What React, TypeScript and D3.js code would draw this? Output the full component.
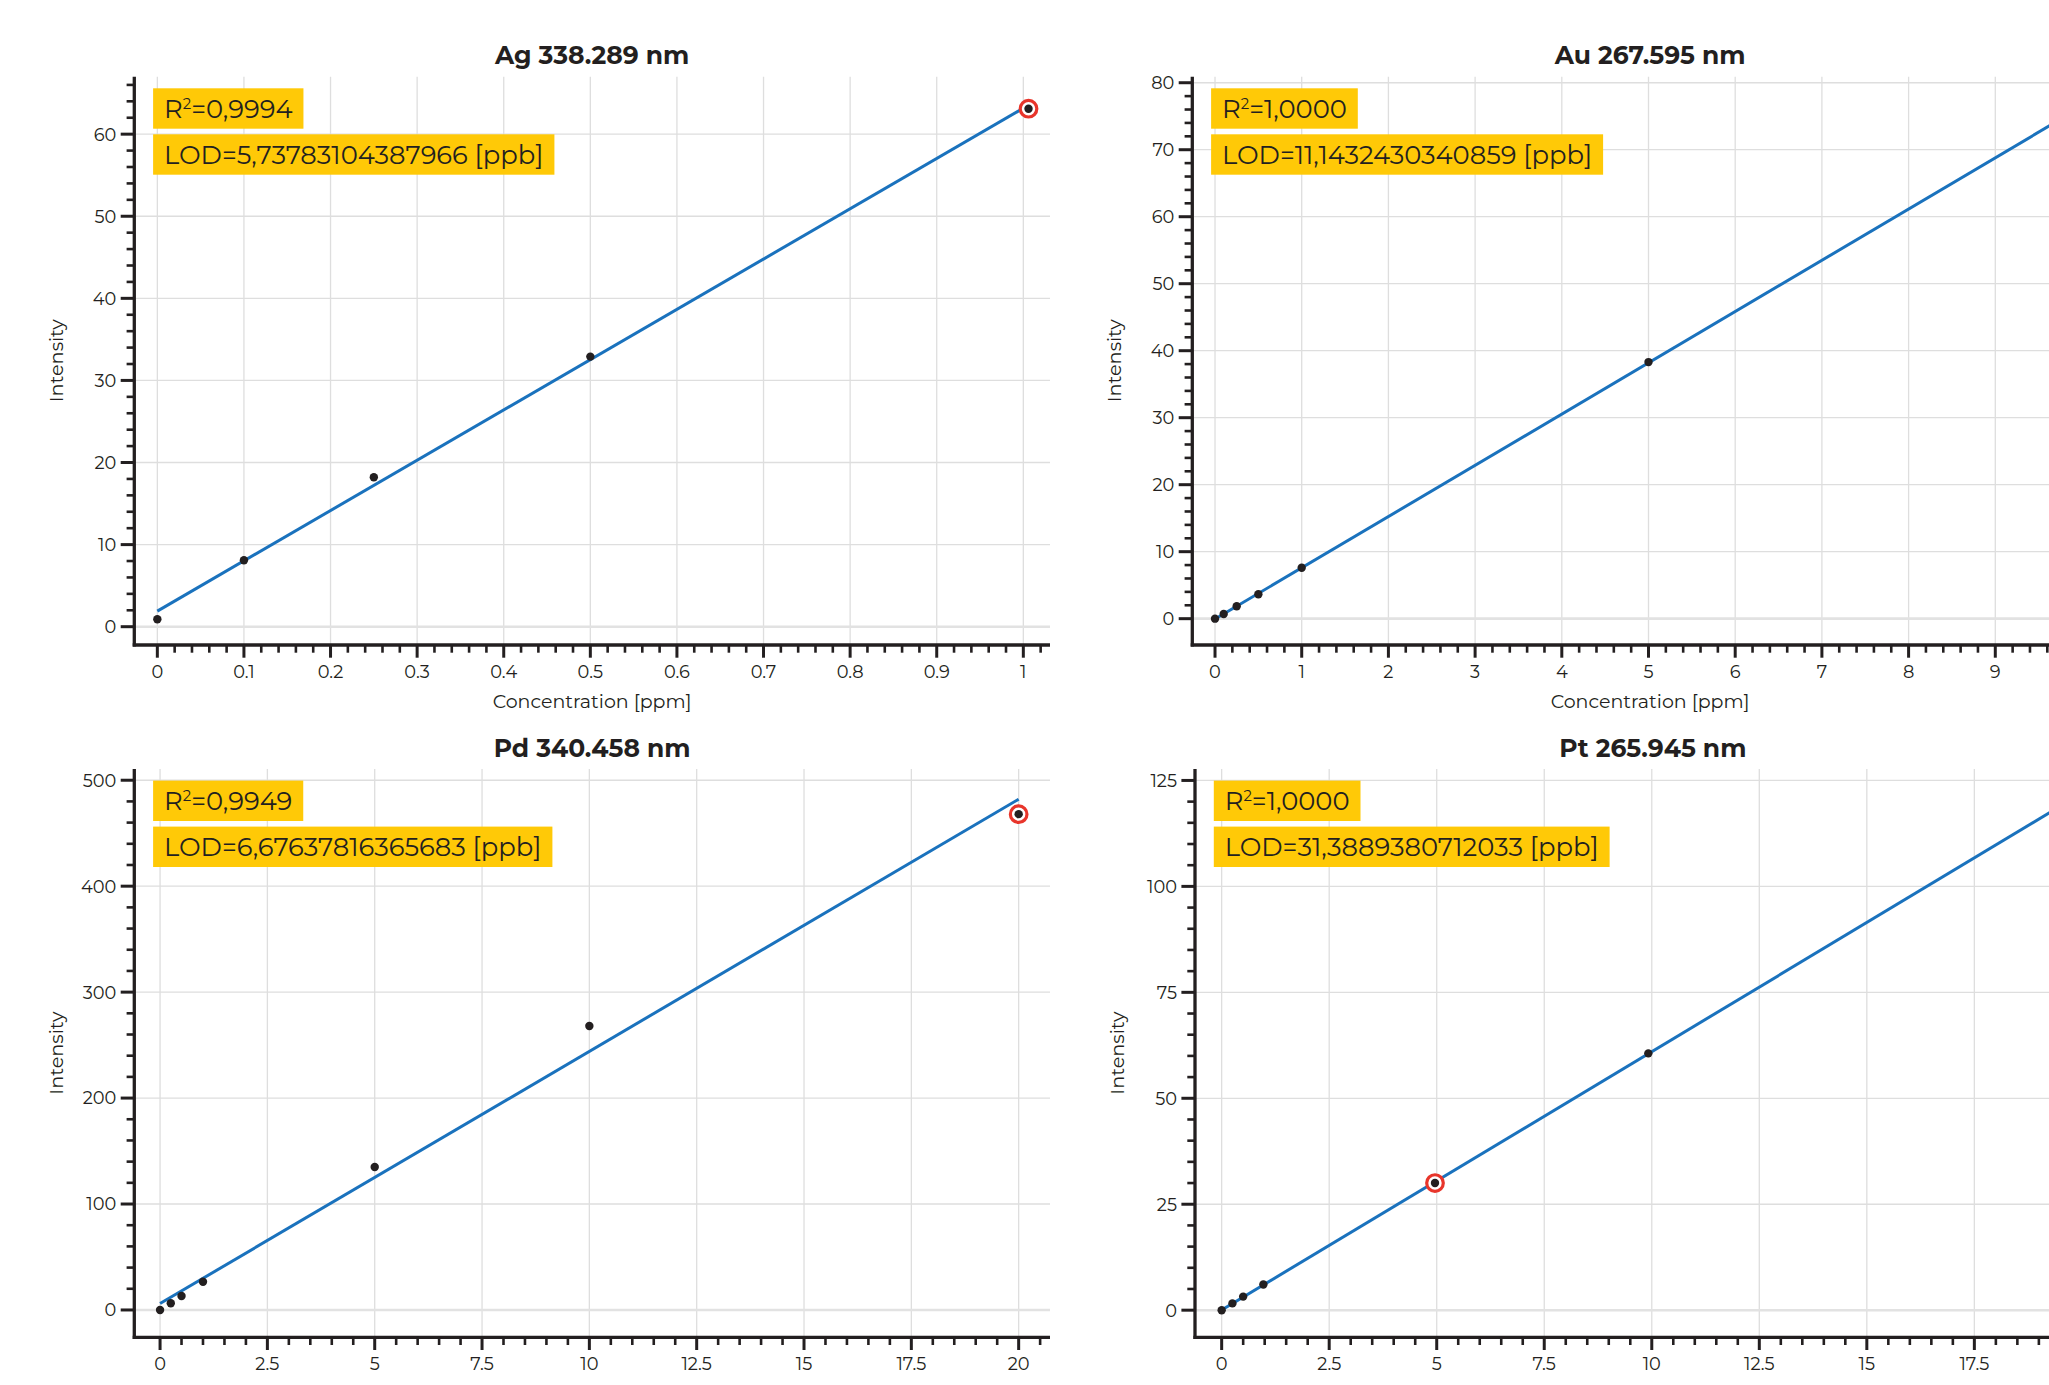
import React, { useRef, useEffect } from 'react';
import * as d3 from 'd3';

// Ag 338.289 nm
const agConc = [0, 0.1, 0.25, 0.5, 1.006];
const agIntensity = [0.9, 8.1, 18.2, 32.9, 63.1];
// Au 267.595 nm (last point lies past the right edge of the picture)
const auConc = [0, 0.1, 0.25, 0.5, 1, 5, 10];
const auIntensity = [0, 0.7, 1.85, 3.65, 7.6, 38.3, 76.4];
// Pd 340.458 nm
const pdConc = [0, 0.25, 0.5, 1, 5, 10, 20];
const pdIntensity = [0, 6.3, 13.2, 26.7, 135, 268, 468];
// Pt 265.945 nm (last point lies past the right edge of the picture)
const ptConc = [0, 0.25, 0.5, 0.97, 4.96, 9.92, 19.84];
const ptIntensity = [0, 1.6, 3.2, 6.06, 30.0, 60.6, 121];

const titles = ['Ag 338.289 nm', 'Au 267.595 nm', 'Pd 340.458 nm', 'Pt 265.945 nm'];
const r2Labels = ['0,9994', '1,0000', '0,9949', '1,0000'];
const lodLabels = ['5,73783104387966', '11,1432430340859', '6,67637816365683', '31,3889380712033'];
const flagged = [4, -1, 6, 4]; // point with the red ring

const W = 2049;
const H = 1385;
const PW = 915.7;
const PH = 568.3;
const FONT = 'Montserrat, Inter, sans-serif';
const INK = '#231f20';

const panels = [
  { conc: agConc, inten: agIntensity, xDom: [-0.0266, 1.0308], yDom: [-2.23, 67.0], xMaj: 0.1, xMin: 0.02, yMaj: 10, yMin: 2, left: 134.3, top: 76.7 },
  { conc: auConc, inten: auIntensity, xDom: [-0.262, 10.3], yDom: [-3.93, 80.9], xMaj: 1, xMin: 0.2, yMaj: 10, yMin: 2, left: 1192.3, top: 76.7 },
  { conc: pdConc, inten: pdIntensity, xDom: [-0.6, 20.73], yDom: [-25.8, 510.6], xMaj: 2.5, xMin: 0.5, yMaj: 100, yMin: 20, left: 134.3, top: 769 },
  { conc: ptConc, inten: ptIntensity, xDom: [-0.62, 20.67], yDom: [-6.4, 127.7], xMaj: 2.5, xMin: 0.5, yMaj: 25, yMin: 5, left: 1195, top: 769 },
];

function steps(max, step) {
  const out = [];
  for (let i = 0; i * step <= max + 1e-9; i++) out.push(+(i * step).toFixed(4));
  return out;
}

function linFit(xs, ys) {
  const mx = d3.mean(xs), my = d3.mean(ys);
  let sxy = 0, sxx = 0;
  xs.forEach((x, i) => { sxy += (x - mx) * (ys[i] - my); sxx += (x - mx) * (x - mx); });
  const b = sxy / sxx;
  return [my - b * mx, b];
}

export default function App() {
  const ref = useRef(null);

  useEffect(() => {
    const svg = d3.select(ref.current);
    svg.selectAll('*').remove();
    svg.append('rect').attr('width', W).attr('height', H).attr('fill', '#fff');

    panels.forEach((p, k) => {
      const x = d3.scaleLinear().domain(p.xDom).range([p.left, p.left + PW]);
      const y = d3.scaleLinear().domain(p.yDom).range([p.top + PH, p.top]);
      const bottom = p.top + PH;
      const right = p.left + PW;
      const g = svg.append('g');

      const xMajors = steps(p.xDom[1], p.xMaj);
      const yMajors = steps(p.yDom[1], p.yMaj);
      const xMinors = steps(p.xDom[1], p.xMin).filter(v => !xMajors.some(m => Math.abs(m - v) < 1e-6));
      const yMinors = steps(p.yDom[1], p.yMin).filter(v => !yMajors.some(m => Math.abs(m - v) < 1e-6));

      // grid
      g.selectAll('.gx').data(xMajors).enter().append('line')
        .attr('x1', d => x(d)).attr('x2', d => x(d)).attr('y1', p.top).attr('y2', bottom)
        .attr('stroke', '#dedede').attr('stroke-width', 1.3);
      g.selectAll('.gy').data(yMajors).enter().append('line')
        .attr('x1', p.left).attr('x2', right).attr('y1', d => y(d)).attr('y2', d => y(d))
        .attr('stroke', d => d === 0 ? '#e2e2e2' : '#dedede').attr('stroke-width', d => d === 0 ? 2.6 : 1.3);

      // axes
      g.append('line').attr('x1', p.left).attr('x2', p.left).attr('y1', p.top).attr('y2', bottom + 1.6)
        .attr('stroke', INK).attr('stroke-width', 3.3);
      g.append('line').attr('x1', p.left - 1.6).attr('x2', right).attr('y1', bottom).attr('y2', bottom)
        .attr('stroke', INK).attr('stroke-width', 3.3);

      // ticks
      g.selectAll('.tx').data(xMajors).enter().append('line')
        .attr('x1', d => x(d)).attr('x2', d => x(d)).attr('y1', bottom).attr('y2', bottom + 12.7)
        .attr('stroke', INK).attr('stroke-width', 3);
      g.selectAll('.txm').data(xMinors).enter().append('line')
        .attr('x1', d => x(d)).attr('x2', d => x(d)).attr('y1', bottom).attr('y2', bottom + 7.7)
        .attr('stroke', INK).attr('stroke-width', 2.6);
      g.selectAll('.ty').data(yMajors).enter().append('line')
        .attr('x1', p.left - 13.6).attr('x2', p.left).attr('y1', d => y(d)).attr('y2', d => y(d))
        .attr('stroke', INK).attr('stroke-width', 3);
      g.selectAll('.tym').data(yMinors).enter().append('line')
        .attr('x1', p.left - 7.7).attr('x2', p.left).attr('y1', d => y(d)).attr('y2', d => y(d))
        .attr('stroke', INK).attr('stroke-width', 2.6);

      // tick labels
      g.selectAll('.lx').data(xMajors).enter().append('text')
        .attr('x', d => x(d)).attr('y', bottom + 33).attr('text-anchor', 'middle')
        .attr('font-family', FONT).attr('font-size', 17.8).attr('fill', INK)
        .text(d => String(d));
      g.selectAll('.ly').data(yMajors).enter().append('text')
        .attr('x', p.left - 18).attr('y', d => y(d)).attr('dy', '0.36em').attr('text-anchor', 'end')
        .attr('font-family', FONT).attr('font-size', 17.8).attr('fill', INK)
        .text(d => String(d));

      // axis titles
      g.append('text').attr('x', (p.left + right) / 2).attr('y', bottom + 63).attr('text-anchor', 'middle')
        .attr('font-family', FONT).attr('font-size', 19).attr('fill', INK).text('Concentration [ppm]');
      g.append('text').attr('transform', `translate(${p.left - 71},${(p.top + bottom) / 2}) rotate(-90)`)
        .attr('text-anchor', 'middle')
        .attr('font-family', FONT).attr('font-size', 19.3).attr('fill', INK).text('Intensity');
      g.append('text').attr('x', (p.left + right) / 2).attr('y', p.top - 12.4).attr('text-anchor', 'middle')
        .attr('font-family', FONT).attr('font-size', 25).attr('font-weight', 700).attr('fill', INK).text(titles[k]);

      // fit line
      const [a, b] = linFit(p.conc, p.inten);
      const x0 = d3.min(p.conc), x1 = d3.max(p.conc);
      g.append('path')
        .attr('d', d3.line()([[x(x0), y(a + b * x0)], [x(x1), y(a + b * x1)]]))
        .attr('stroke', '#1a72bd').attr('stroke-width', 3).attr('fill', 'none');

      // points
      const pts = p.conc.map((c, i) => [c, p.inten[i]]);
      if (flagged[k] >= 0) {
        const f = pts[flagged[k]];
        g.append('circle').attr('cx', x(f[0])).attr('cy', y(f[1])).attr('r', 8.3)
          .attr('fill', '#fff').attr('stroke', '#e8352b').attr('stroke-width', 3.2);
      }
      g.selectAll('.pt').data(pts).enter().append('circle')
        .attr('cx', d => x(d[0])).attr('cy', d => y(d[1])).attr('r', 4.2).attr('fill', INK);

      // annotation boxes
      const bx = p.left + 18.8;
      const rows = [
        { top: p.top + 11.6, parts: [['R', 0], ['2', 1], ['=' + r2Labels[k], 0]] },
        { top: p.top + 57.6, parts: [['LOD=' + lodLabels[k] + ' [ppb]', 0]] },
      ];
      rows.forEach(r => {
        const rect = g.append('rect').attr('x', bx).attr('y', r.top).attr('height', 40.4).attr('fill', '#ffc907');
        const t = g.append('text').attr('x', bx + 11).attr('y', r.top + 29.3)
          .attr('font-family', FONT).attr('font-size', 25.8).attr('fill', INK);
        r.parts.forEach(([s, sup]) => {
          const ts = t.append('tspan').text(s);
          if (sup) ts.attr('font-size', 14.8).attr('dy', -9);
          else if (s.startsWith('=')) ts.attr('dy', 9);
        });
        const w = t.node().getComputedTextLength();
        rect.attr('width', w + 22);
      });
    });
  }, []);

  return (
    <svg ref={ref} width={W} height={H} style={{ position: 'fixed', left: 0, top: 0 }} />
  );
}
